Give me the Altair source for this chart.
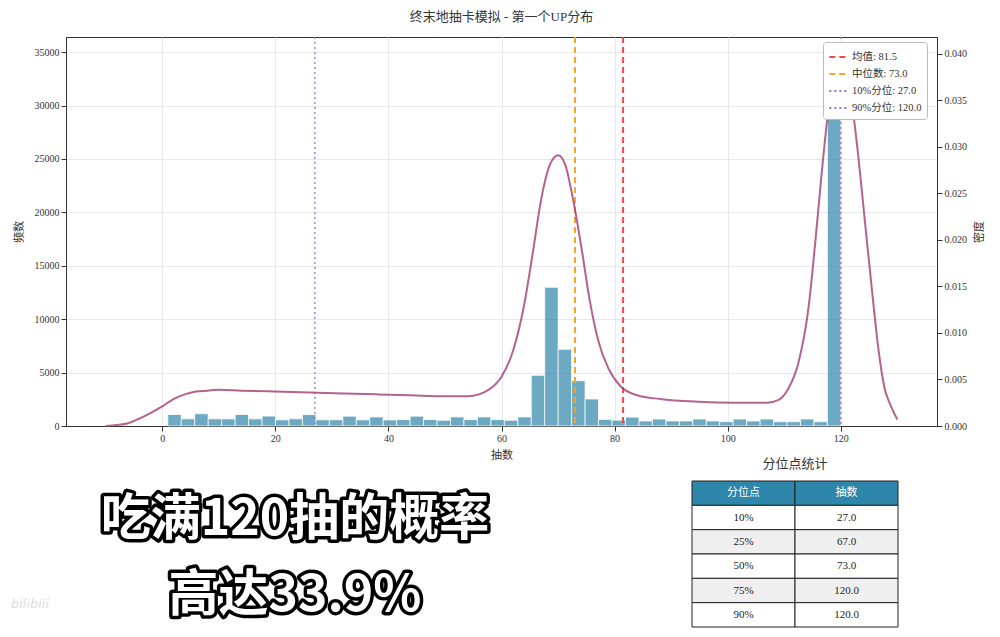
import altair as alt
import numpy as np
import pandas as pd

# ---------------- data ----------------
counts = [1080, 670, 1150, 670, 670, 1080, 670, 930, 580, 680,
          1070, 580, 580, 920, 580, 850, 570, 600, 920, 600,
          540, 850, 600, 850, 600, 540, 850, 4750, 12990, 7180,
          4240, 2530, 620, 550, 830, 470, 655, 470, 470, 655,
          470, 400, 655, 470, 655, 400, 400, 655, 400, 34700]
bin_edges = np.linspace(1, 120, 51)  # 50 bins between min (1) and max (120)

kde_x = [-10, -8, -6, -4, -2, 0, 2, 4, 6, 8, 10, 14, 20, 26, 32, 38, 44, 50,
         54, 56, 58, 60, 62, 64, 65.5, 67, 68.5, 70, 71.2, 72.7, 74.2, 75.6,
         77.1, 78.9, 81, 84, 88, 95, 101, 107, 109, 110.7, 112.5, 114.3, 115.5,
         116.6, 117.8, 119, 119.8, 120.8, 121.9, 123.1, 124.3, 125.5, 126.7,
         127.8, 128.6, 129.4, 130]
kde_y = [0.0000, 0.0001, 0.0003, 0.0008, 0.0014, 0.0021, 0.0029, 0.0034, 0.0037,
         0.0038, 0.0039, 0.0038, 0.0037, 0.0036, 0.0035, 0.0034, 0.0033, 0.0032,
         0.0032, 0.0034, 0.0040, 0.0053, 0.0080, 0.0130, 0.0185, 0.0243, 0.0280,
         0.0291, 0.0282, 0.0242, 0.0189, 0.0135, 0.0092, 0.0062, 0.0043, 0.0033,
         0.0029, 0.0026, 0.0025, 0.0025, 0.0028, 0.0040, 0.0068, 0.0128, 0.0199,
         0.0271, 0.0340, 0.0385, 0.0398, 0.0390, 0.0350, 0.0289, 0.0217, 0.0146,
         0.0080, 0.0039, 0.0025, 0.0014, 0.0007]

stat_labels = ["均值: 81.5", "中位数: 73.0", "10%分位: 27.0", "90%分位: 120.0"]
stat_values = [81.5, 73.0, 27.0, 120.0]
stat_colors = ["#f44848", "#f5a623", "#9a6fd0", "#9a6fd0"]
stat_dashes = [[6, 4], [6, 4], [2, 3], [2, 3]]

table_header = ["分位点", "抽数"]
table_pct = ["10%", "25%", "50%", "75%", "90%"]
table_vals = ["27.0", "67.0", "73.0", "120.0", "120.0"]

captions = ["吃满120抽的概率", "高达33.9%"]

SERIF = "Liberation Serif, Noto Sans CJK SC"
CJK = "Noto Sans CJK SC"

# ---------------- tables ----------------
hist_df = pd.DataFrame({"start": bin_edges[:-1], "end": bin_edges[1:],
                        "count": counts, "base": 0})
kde_df = pd.DataFrame({"x": kde_x, "density": kde_y})
stat_df = pd.DataFrame({"label": stat_labels, "value": stat_values})

cells = []
for c, h in enumerate(table_header):
    cells.append({"row": 0, "col": c, "text": h, "kind": "header"})
for r, (p, v) in enumerate(zip(table_pct, table_vals), start=1):
    kind = "white" if r % 2 == 1 else "gray"
    cells.append({"row": r, "col": 0, "text": p, "kind": kind})
    cells.append({"row": r, "col": 1, "text": v, "kind": kind})
cell_df = pd.DataFrame(cells)

cap_df = pd.DataFrame({"text": captions, "line": [0, 1]})

# ---------------- main plot ----------------
xscale = alt.Scale(domain=[-17, 137], nice=False, zero=False)
x_axis = alt.Axis(values=list(range(0, 121, 20)), title="抽数", grid=True,
                  gridColor="#e8e8e8", labelFont=SERIF, labelFontSize=10,
                  labelColor="#333", titleFont=CJK, titleFontSize=11,
                  titleFontWeight="normal", titleColor="#333", tickColor="#333",
                  domainColor="#333", titlePadding=6)

hist = alt.Chart(hist_df).mark_rect(color="#2E86AB", opacity=0.7, stroke="white",
                                    strokeWidth=0.8).encode(
    x=alt.X("start:Q", scale=xscale, axis=x_axis),
    x2="end:Q",
    y=alt.Y("count:Q", scale=alt.Scale(domain=[0, 36420], nice=False),
            axis=alt.Axis(orient="left", values=list(range(0, 35001, 5000)), format="d",
                          title="频数", grid=True, gridColor="#e8e8e8",
                          labelFont=SERIF, labelFontSize=10, labelColor="#333",
                          titleFont=CJK, titleFontSize=11, titleFontWeight="normal",
                          titleColor="#333", tickColor="#333", domainColor="#333",
                          titlePadding=10)),
    y2="base:Q",
)

legend = alt.Legend(title=None, orient="none", legendX=757, legendY=5,
                    symbolType="stroke", symbolStrokeWidth=2, symbolSize=300,
                    labelFont=SERIF, labelFontSize=10.5, labelColor="#333",
                    fillColor="white", strokeColor="#bbbbbb", padding=5,
                    rowPadding=1, cornerRadius=3)
color_scale = alt.Scale(domain=stat_labels, range=stat_colors)
dash_scale = alt.Scale(domain=stat_labels, range=stat_dashes)

rules_dash = alt.Chart(stat_df).transform_filter(
    alt.FieldOneOfPredicate(field="label", oneOf=stat_labels[:2])
).mark_rule(strokeWidth=2).encode(
    x=alt.X("value:Q", scale=xscale),
    color=alt.Color("label:N", scale=color_scale, legend=legend, sort=stat_labels),
    strokeDash=alt.StrokeDash("label:N", scale=dash_scale, legend=legend, sort=stat_labels),
)
rules_dot = alt.Chart(stat_df).transform_filter(
    alt.FieldOneOfPredicate(field="label", oneOf=stat_labels[2:])
).mark_rule(strokeWidth=1.3).encode(
    x=alt.X("value:Q", scale=xscale),
    color=alt.Color("label:N", scale=color_scale, legend=legend, sort=stat_labels),
    strokeDash=alt.StrokeDash("label:N", scale=dash_scale, legend=legend, sort=stat_labels),
)

kde = alt.Chart(kde_df).mark_line(color="#A23B72", strokeWidth=2, opacity=0.8,
                                  interpolate="monotone").encode(
    x=alt.X("x:Q", scale=xscale),
    y=alt.Y("density:Q", scale=alt.Scale(domain=[0, 0.0418], nice=False),
            axis=alt.Axis(orient="right", values=[i * 0.005 for i in range(9)],
                          format=".3f", title="密度", grid=False, titleAngle=270,
                          titleBaseline="top",
                          labelFont=SERIF, labelFontSize=10, labelColor="#333",
                          titleFont=CJK, titleFontSize=11, titleFontWeight="normal",
                          titleColor="#333", tickColor="#333", domainColor="#333",
                          titlePadding=7)),
)

main = alt.layer(hist, rules_dash, rules_dot, kde).resolve_scale(y="independent")

# ---------------- quantile table ----------------
def tx(center):
    return alt.X("col:O", scale=alt.Scale(type="band", range=[626, 832], paddingInner=0,
                                          paddingOuter=0), axis=None,
                 **({"bandPosition": 0.5} if center else {}))


def ty(center):
    return alt.Y("row:O", scale=alt.Scale(type="band", range=[444, 590], paddingInner=0,
                                          paddingOuter=0), axis=None,
                 **({"bandPosition": 0.5} if center else {}))


t_rect = alt.Chart(cell_df).mark_rect(stroke="#222", strokeWidth=1).encode(
    x=tx(False), y=ty(False),
    fill=alt.Fill("kind:N", scale=alt.Scale(domain=["header", "white", "gray"],
                                            range=["#2E86AB", "#ffffff", "#efefef"]),
                  legend=None),
)
t_head = alt.Chart(cell_df).transform_filter(alt.datum.row == 0).mark_text(
    font=CJK, fontSize=11, color="white").encode(x=tx(True), y=ty(True), text="text:N")
t_body = alt.Chart(cell_df).transform_filter(alt.datum.row > 0).mark_text(
    font=SERIF, fontSize=11, color="#222").encode(x=tx(True), y=ty(True), text="text:N")
table = alt.layer(t_rect, t_head, t_body)

t_title = alt.Chart(pd.DataFrame({"t": ["分位点统计"]})).mark_text(
    font=CJK, fontSize=13, color="#333").encode(
    x=alt.value(729), y=alt.value(427), text="t:N")

# ---------------- caption overlay ----------------
cy = alt.Y("line:O", scale=alt.Scale(type="point", range=[483, 559], padding=0), axis=None)
cap_stroke = alt.Chart(cap_df).mark_text(
    font=CJK, fontSize=50, fontWeight="bold", fill="black", stroke="black",
    strokeWidth=7, strokeJoin="round", baseline="middle").encode(
    x=alt.value(229), y=cy, text="text:N")
cap_fill = alt.Chart(cap_df).mark_text(
    font=CJK, fontSize=50, fontWeight="bold", fill="white",
    baseline="middle").encode(x=alt.value(229), y=cy, text="text:N")
cap = alt.layer(cap_stroke, cap_fill)

wm = alt.Chart(pd.DataFrame({"t": ["bilibili"]})).mark_text(
    font="DejaVu Sans", fontSize=13, fontStyle="italic", color="#dddddd").encode(
    x=alt.value(-36), y=alt.value(567), text="t:N")

chart = alt.layer(main, table, t_title, cap, wm).resolve_scale(
    x="independent", y="independent"
).properties(
    width=871, height=389,
    title=alt.Title("终末地抽卡模拟 - 第一个UP分布", font=SERIF, fontSize=13,
                    fontWeight="normal", color="#333", offset=12),
    autosize=alt.AutoSizeParams(type="none"),
    padding={"left": 58, "top": 29, "right": 55, "bottom": 202},
).configure_view(stroke="#333", strokeWidth=1)

chart.save("out.html", embed_options={"renderer": "svg", "actions": False})
